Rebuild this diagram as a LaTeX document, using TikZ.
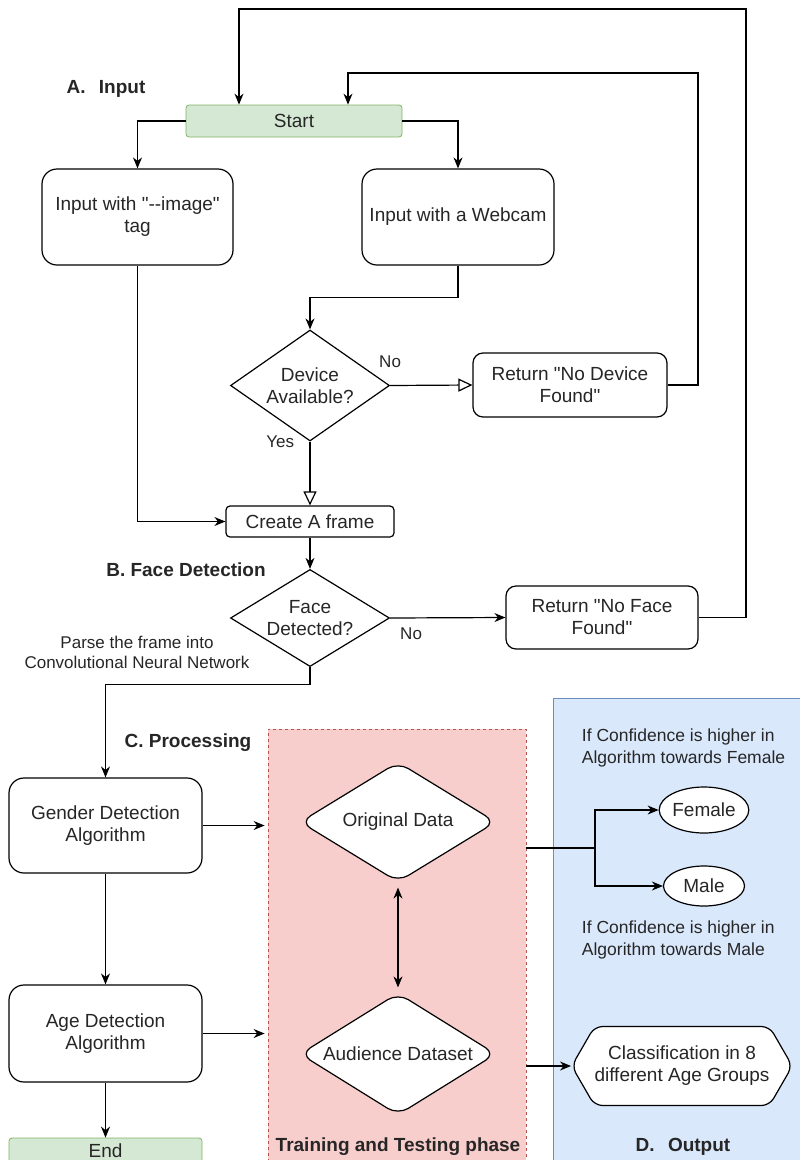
\documentclass[tikz,border=0pt]{standalone}
\usepackage{fontspec}
\setmainfont{Liberation Sans}
\usetikzlibrary{arrows.meta}
\usetikzlibrary{shapes.geometric}
\usetikzlibrary{shapes.symbols}
\usetikzlibrary{positioning}

\definecolor{termfill}{HTML}{D5E8D4}
\definecolor{termline}{HTML}{82B366}
\definecolor{trainfill}{HTML}{F8CECC}
\definecolor{trainline}{HTML}{B85450}
\definecolor{outfill}{HTML}{DAE8FC}
\definecolor{outstroke}{HTML}{6C8EBF}
\definecolor{txt}{HTML}{262626}

\begin{document}
\begin{tikzpicture}[x=1pt, y=-1pt, line width=1.2pt, text=txt,
  font=\fontsize{19}{22}\selectfont,
  box/.style={draw, rounded corners=#1, fill=white, align=center, inner sep=2pt},
  box/.default=10pt,
  term/.style={draw=termline, fill=termfill, rounded corners=3pt, line width=0.8pt},
  decide/.style={draw, diamond, fill=white, align=center, inner sep=0pt, aspect=1.4},
  head/.style={font=\bfseries\fontsize{19}{22}\selectfont},
  lbl/.style={font=\fontsize{17}{20}\selectfont},
  note/.style={align=left, anchor=west, font=\fontsize{17.5}{22}\selectfont},
  arr/.style={-{Stealth[length=11pt,width=9pt]}},
  oarr/.style={-{Triangle[length=14pt,width=13pt,fill=white]}},
  darr/.style={{Stealth[length=11pt,width=9pt]}-{Stealth[length=11pt,width=9pt]}}]

  \useasboundingbox (0,0) rectangle (800,1160);

  % 領域
  \node[draw=trainline, fill=trainfill, dashed, line width=0.8pt,
        minimum width=258pt, minimum height=452pt, inner sep=0pt] (train) at (397,955) {};
  \node[draw=outstroke, fill=outfill, line width=0.8pt,
        minimum width=262pt, minimum height=474pt, inner sep=0pt] (outp) at (684,935) {};

  % 見出し
  \node[head] (secA) at (106,89) {A.\hspace{0.7em}Input};
  \node[head] (secB) at (186,570) {B. Face Detection};
  \node[head] (secC) at (188,743) {C. Processing};
  \node[head] (secD) at (683,1147) {D.\hspace{0.7em}Output};
  \node[head] (secT) at (398,1147) {Training and Testing phase};

  % ノード
  \node[term, minimum width=216pt, minimum height=32pt] (start) at (294,121) {Start};
  \node[box=15pt, minimum width=191pt, minimum height=96pt] (imgin) at (137.5,217) {Input with \textquotedbl-{}-image\textquotedbl\\tag};
  \node[box=15pt, minimum width=192pt, minimum height=96pt] (webcam) at (458,217) {Input with a Webcam};
  \node[decide, minimum width=159pt, minimum height=111pt] (device) at (310,385.5) {Device\\Available?};
  \node[box, minimum width=194pt, minimum height=64pt] (nodev) at (570,385) {Return \textquotedbl No Device\\Found\textquotedbl};
  \node[box=4pt, minimum width=168pt, minimum height=31pt] (frame) at (310,521.5) {Create A frame};
  \node[decide, minimum width=159pt, minimum height=94pt] (face) at (310,618) {Face\\Detected?};
  \node[box, minimum width=192pt, minimum height=63pt] (noface) at (602,617.5) {Return \textquotedbl No Face\\Found\textquotedbl};
  \node[lbl, align=center] (parse) at (137,652) {Parse the frame into\\Convolutional Neural Network};

  \node[box=15pt, minimum width=193pt, minimum height=95pt] (gender) at (105.5,825.5) {Gender Detection\\Algorithm};
  \node[box=15pt, minimum width=193pt, minimum height=97pt] (age) at (105.5,1033.5) {Age Detection\\Algorithm};
  \node[term, minimum width=193pt, minimum height=26pt] (endn) at (105.5,1151) {End};

  \node[decide, rounded corners=12pt, minimum width=196pt, minimum height=120pt] (orig) at (398,822) {Original Data};
  \node[decide, rounded corners=12pt, minimum width=196pt, minimum height=122pt] (aud) at (398,1054) {Audience Dataset};

  \node[note] (femnote) at (578,748) {If Confidence is higher in\\Algorithm towards Female};
  \node[draw, ellipse, fill=white, inner sep=0pt, minimum width=81pt, minimum height=46pt] (female) at (704,810) {Female};
  \node[draw, ellipse, fill=white, inner sep=0pt, minimum width=81pt, minimum height=40pt] (male) at (704,886) {Male};
  \node[note] (malenote) at (578,940) {If Confidence is higher in\\Algorithm towards Male};
  \node[draw, signal, signal to=west and east, signal pointer angle=120, rounded corners=8pt,
        fill=white, align=center, inner sep=0pt, minimum width=219pt, minimum height=79pt] (agegrp) at (682,1066) {Classification in 8\\different Age Groups};

  % 矢印
  \draw[arr] (start.west) -| (imgin.north);
  \draw[arr] (start.east) -| (webcam.north);
  \draw[arr] (webcam.south) -- ++(0,32) -| (device.north);
  \draw[oarr] (device.east) -- node[lbl, at start, yshift=24pt] (nolbl1) {No} (nodev.west);
  \draw[arr] (nodev.east) -| (698,73) -| ([xshift=54pt]start.north);
  \draw[oarr] (device.south) -- node[lbl, at start, anchor=east, xshift=-12pt] (yeslbl) {Yes} (frame.north);
  \draw[arr] (imgin.south) |- (frame.west);
  \draw[arr] (frame.south) -- (face.north);
  \draw[arr] (face.east) -- node[lbl, at start, xshift=21pt, yshift=-16pt] (nolbl2) {No} (noface.west);
  \draw[arr] (noface.east) -| (746,9) -| ([xshift=-55pt]start.north);
  \draw[arr] (face.south) -- ++(0,17) -| (gender.north);

  \draw[arr] (gender.south) -- (age.north);
  \draw[arr] (age.south) -- (endn.north);
  \draw[arr, shorten >=3pt] (gender.east) -- (gender.east -| train.west);
  \draw[arr, shorten >=3pt] (age.east) -- (age.east -| train.west);
  \draw[darr, shorten <=5pt, shorten >=5pt] (orig.south) -- (aud.north);

  \coordinate (split) at (595,848);
  \draw (split -| train.east) -- (split);
  \draw[arr] (split) |- (female.west);
  \draw[arr] (split) |- (male.west);
  \draw[arr] (agegrp.west -| train.east) -- (agegrp.west);
\end{tikzpicture}
\end{document}
